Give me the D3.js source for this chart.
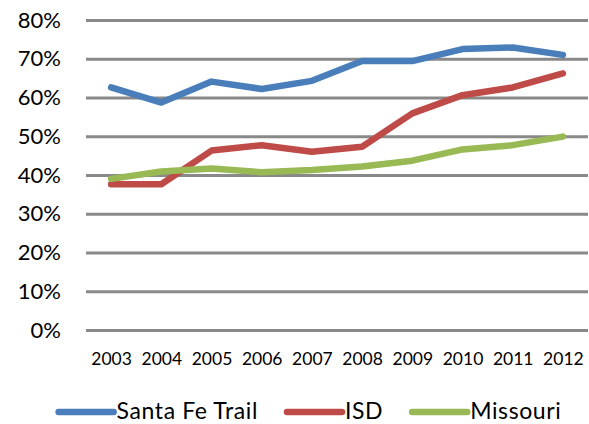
<!DOCTYPE html>
<html>
<head>
<meta charset="utf-8">
<script src="https://cdn.jsdelivr.net/npm/d3@7/dist/d3.min.js"></script>
<style>
  html, body { margin: 0; padding: 0; background: #fff; }
  svg { display: block; font-family: Lato, 'Open Sans', sans-serif; }
</style>
</head>
<body>
<svg id="chart" width="589" height="424"></svg>
<script>
'use strict';

// ── data ────────────────────────────────────────────────
const years = ['2003', '2004', '2005', '2006', '2007', '2008', '2009', '2010', '2011', '2012'];
const santaFeTrail = [0.626, 0.587, 0.641, 0.622, 0.643, 0.694, 0.694, 0.725, 0.729, 0.710];
const isd          = [0.376, 0.376, 0.463, 0.477, 0.460, 0.473, 0.559, 0.606, 0.626, 0.662];
const missouri     = [0.390, 0.409, 0.417, 0.407, 0.413, 0.422, 0.437, 0.466, 0.477, 0.499];
const yTicks = [0, 0.1, 0.2, 0.3, 0.4, 0.5, 0.6, 0.7, 0.8];
const seriesNames = ['Santa Fe Trail', 'ISD', 'Missouri'];
const seriesColors = ['#4a7ebb', '#be4b48', '#98b954'];

const series = [santaFeTrail, isd, missouri].map((vals, i) => ({
  name: seriesNames[i], color: seriesColors[i], values: vals
}));

// ── layout ──────────────────────────────────────────────
const plot = { left: 86, right: 588, top: 20, bottom: 330 };

const svg = d3.select('#chart');

const x = d3.scalePoint()
  .domain(years)
  .range([plot.left, plot.right])
  .padding(0.5);

const y = d3.scaleLinear()
  .domain([0, 0.8])
  .range([plot.bottom, plot.top]);

// y axis + gridlines
const yAxis = svg.append('g')
  .attr('transform', `translate(${plot.left},0)`)
  .call(d3.axisLeft(y)
    .tickValues(yTicks)
    .tickFormat(d3.format('.0%'))
    .tickSize(-(plot.right - plot.left))
    .tickPadding(25));
yAxis.select('.domain').remove();
yAxis.selectAll('.tick line')
  .attr('stroke', '#898989')
  .attr('stroke-width', 3);
yAxis.selectAll('.tick text')
  .attr('fill', '#000')
  .attr('font-size', 22)
  .attr('font-family', 'Lato, sans-serif');

// x axis labels
const xAxis = svg.append('g')
  .attr('transform', `translate(0,${plot.bottom})`)
  .call(d3.axisBottom(x).tickSize(0));
xAxis.select('.domain').remove();
xAxis.selectAll('.tick text')
  .attr('y', 35)
  .attr('dy', null)
  .attr('fill', '#000')
  .attr('font-size', 17.5)
  .attr('font-family', 'Lato, sans-serif');

// lines
const line = d3.line()
  .x((d, i) => x(years[i]))
  .y(d => y(d));

svg.append('g')
  .selectAll('path')
  .data(series)
  .join('path')
  .attr('d', d => line(d.values))
  .attr('fill', 'none')
  .attr('stroke', d => d.color)
  .attr('stroke-width', 6.5)
  .attr('stroke-linejoin', 'round')
  .attr('stroke-linecap', 'round');

// legend
const legendY = 412;
const swatchLen = 55;
const textGap = 3;
const itemGap = 29;
const legend = svg.append('g');

const items = legend.selectAll('g')
  .data(series)
  .join('g');

items.append('line')
  .attr('x1', 0)
  .attr('x2', swatchLen)
  .attr('y1', legendY)
  .attr('y2', legendY)
  .attr('stroke', d => d.color)
  .attr('stroke-width', 6.5)
  .attr('stroke-linecap', 'round');

items.append('text')
  .attr('x', swatchLen + textGap)
  .attr('y', 419)
  .attr('font-size', 23)
  .attr('letter-spacing', 0.6)
  .attr('fill', '#000')
  .text(d => d.name);

// place items side by side, centred under the chart
let cursor = 0;
const widths = [];
items.each(function () {
  const w = swatchLen + textGap + this.querySelector('text').getComputedTextLength();
  widths.push(w);
});
const total = d3.sum(widths) + itemGap * (widths.length - 1);
const startX = 310 - total / 2;
items.attr('transform', (d, i) => {
  const tx = startX + cursor;
  cursor += widths[i] + itemGap;
  return `translate(${tx},0)`;
});
</script>
</body>
</html>
